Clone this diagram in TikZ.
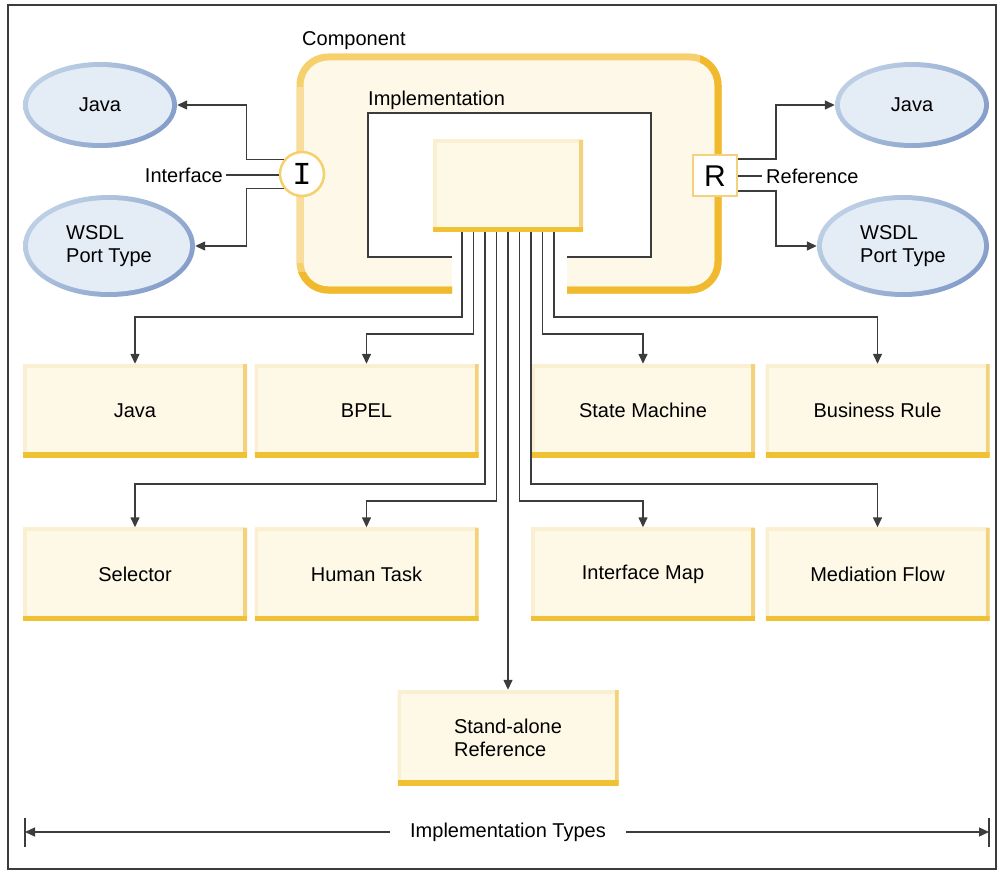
\documentclass[tikz,border=0pt]{standalone}
\usepackage{fontspec}
\setmainfont{Liberation Sans}
\newfontfamily\monofnt{Liberation Mono}
\usetikzlibrary{arrows.meta,shapes.geometric,calc}

\definecolor{boxfill}{HTML}{FEF8E7}
\definecolor{boxtop}{HTML}{FBEFD2}
\definecolor{boxside}{HTML}{F4D27C}
\definecolor{boxbase}{HTML}{F0C233}
\definecolor{compfill}{HTML}{FEF8E8}
\definecolor{compmid}{HTML}{F5D06C}
\definecolor{compdark}{HTML}{F0B92E}
\definecolor{complight}{HTML}{F8DD9C}
\definecolor{ellfill}{HTML}{E4ECF6}
\definecolor{elllight}{HTML}{BCCFE4}
\definecolor{elldark}{HTML}{869ECA}
\definecolor{wire}{HTML}{3C3C3C}

\begin{document}
\begin{tikzpicture}[x=1pt,y=-1pt,
  every node/.style={font=\fontsize{20}{23}\selectfont},
  wire/.style={draw=wire, line width=1.4pt},
  arr/.style={wire, -{Triangle[length=10pt,width=9pt]}},
  typebox/.style={rectangle, minimum width=224pt, minimum height=93pt,
    inner sep=0pt, fill=boxfill,
    path picture={
      \draw[boxtop, line width=7pt] (path picture bounding box.north west) -- (path picture bounding box.north east);
      \draw[boxtop, line width=7pt] (path picture bounding box.north west) -- (path picture bounding box.south west);
      \draw[boxside, line width=8pt] (path picture bounding box.north east) -- (path picture bounding box.south east);
      \draw[boxbase, line width=10pt] (path picture bounding box.south west) -- (path picture bounding box.south east);
    }},
  porttype/.style={ellipse, inner sep=0pt, align=left,
    path picture={
      \shade[top color=elllight, bottom color=elldark, shading angle=45]
        (path picture bounding box.south west) rectangle (path picture bounding box.north east);
      \fill[ellfill] let \p1=(path picture bounding box.north east),
                         \p2=(path picture bounding box.center) in
        (\p2) ellipse ({\x1-\x2-5pt} and {\y1-\y2-5pt});
    }},
  smallell/.style={porttype, minimum width=154pt, minimum height=86pt},
  bigell/.style={porttype, minimum width=172pt, minimum height=102pt},
]
\useasboundingbox (0,0) rectangle (997,872);

% outer frame
\draw[draw=wire, line width=2pt] (8,5) rectangle (996,869);

% component body with its open bottom edge
\fill[compfill, rounded corners=28pt] (300,57) rectangle (718,290);
\fill[white] (368,113) -- (651,113) -- (651,257) -- (567,257) -- (567,296)
  -- (452,296) -- (452,257) -- (368,257) -- cycle;
\draw[compmid, line width=7pt, rounded corners=28pt]
  (452,290) -- (300,290) -- (300,57) -- (718,57) -- (718,290) -- (567,290);
\begin{scope}
  \clip (700,0) -- (1000,0) -- (1000,400) -- (0,400) -- (0,272) -- (700,272) -- cycle;
  \draw[compdark, line width=7pt, rounded corners=28pt]
    (452,290) -- (300,290) -- (300,57) -- (718,57) -- (718,290) -- (567,290);
\end{scope}
\begin{scope}
  \clip (0,88) rectangle (320,262);
  \draw[complight, line width=7pt, rounded corners=28pt]
    (452,290) -- (300,290) -- (300,57) -- (718,57) -- (718,290) -- (567,290);
\end{scope}

% implementation frame
\draw[wire] (452,257) -- (368,257) -- (368,113) -- (651,113) -- (651,257) -- (567,257);

\node[anchor=west, inner sep=0pt] (complab) at (302,41) {Component};
\node[anchor=west, inner sep=0pt] (impllab) at (368,100) {Implementation};

\node[typebox, minimum width=150pt, minimum height=92pt] (impl) at (508,186) {};

% interface and reference ports
\node[circle, minimum size=44pt, inner sep=0pt, fill=white, draw=compmid,
  line width=2.5pt] (iface) at (302,174) {\fontsize{32}{32}\monofnt I};
\node[rectangle, minimum width=44pt, minimum height=41pt, inner sep=0pt,
  fill=white, draw=boxside, line width=2pt] (rport) at (715,176)
  {\fontsize{30}{30}\selectfont R};

\node[anchor=east, inner sep=3pt] (ilab) at (226,175) {Interface};
\node[anchor=west, inner sep=4pt] (rlab) at (762,176) {Reference};
\draw[wire] (ilab.east) -- (ilab.east -| iface.west);
\draw[wire] (rport.east) -- (rport.east -| rlab.west);

% interface and reference types
\node[smallell] (javaL) at (100,105) {Java};
\node[bigell] (wsdlL) at (109,246) {WSDL\\Port Type};
\node[smallell] (javaR) at (912,105) {Java};
\node[bigell] (wsdlR) at (903,246) {WSDL\\Port Type};

\draw[arr] (iface.142) -- ++(-37,0) |- (javaL.east);
\draw[arr] (iface.218) -- ++(-37,0) |- (wsdlL.east);
\draw[arr] ([yshift=17pt]rport.east) -- ++(38,0) |- (javaR.west);
\draw[arr] ([yshift=-15pt]rport.east) -- ++(38,0) |- (wsdlR.west);

% implementation types
\node[typebox] (tjava) at (135,410.5) {Java};
\node[typebox] (tbpel) at (366.5,410.5) {BPEL};
\node[typebox] (tstate) at (643,410.5) {State Machine};
\node[typebox] (trule) at (877.5,410.5) {Business Rule};
\node[typebox] (tsel) at (135,574) {Selector};
\node[typebox] (thuman) at (366.5,574) {Human Task};
\node[typebox] (tmap) at (643,574) {Interface Map};
\node[typebox] (tmed) at (877.5,574) {Mediation Flow};
\node[typebox, minimum width=221pt, minimum height=95pt, align=left]
  (tstand) at (508,737.5) {Stand-alone\\Reference};

% fan of wires leaving the implementation
\coordinate (f1) at ([xshift=-46pt]impl.south);
\coordinate (f2) at ([xshift=-34.5pt]impl.south);
\coordinate (f3) at ([xshift=-23pt]impl.south);
\coordinate (f4) at ([xshift=-11.5pt]impl.south);
\coordinate (f5) at (impl.south);
\coordinate (f6) at ([xshift=11.5pt]impl.south);
\coordinate (f7) at ([xshift=23pt]impl.south);
\coordinate (f8) at ([xshift=34.5pt]impl.south);
\coordinate (f9) at ([xshift=46pt]impl.south);

\draw[arr] (f1) -- (f1 |- 0,317) -| (tjava.north);
\draw[arr] (f2) -- (f2 |- 0,334) -| (tbpel.north);
\draw[arr] (f3) -- (f3 |- 0,484) -| (tsel.north);
\draw[arr] (f4) -- (f4 |- 0,501) -| (thuman.north);
\draw[arr] (f5) -- (tstand.north);
\draw[arr] (f6) -- (f6 |- 0,501) -| (tmap.north);
\draw[arr] (f7) -- (f7 |- 0,484) -| (tmed.north);
\draw[arr] (f8) -- (f8 |- 0,334) -| (tstate.north);
\draw[arr] (f9) -- (f9 |- 0,317) -| (trule.north);

% dimension line
\coordinate (tl) at (25,832);
\coordinate (tr) at (989,832);
\draw[wire] (25,818) -- (25,847);
\draw[wire] (989,818) -- (989,847);
\node[inner xsep=20pt, inner ysep=0pt] (tlab) at (508,832) {Implementation Types};
\draw[arr] (tlab.west) -- (tl);
\draw[arr] (tlab.east) -- (tr);
\end{tikzpicture}
\end{document}
